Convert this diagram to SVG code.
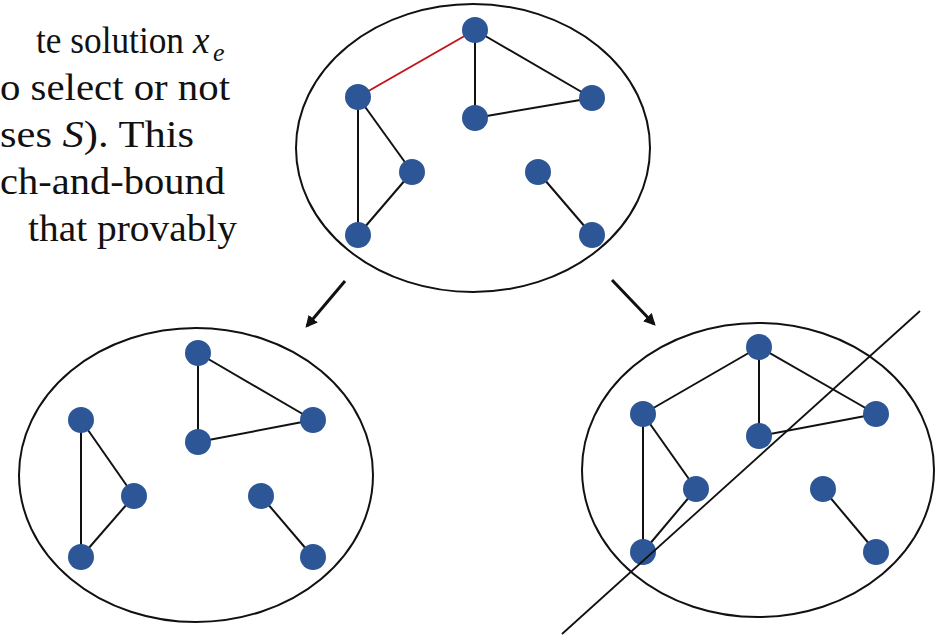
<svg xmlns="http://www.w3.org/2000/svg" width="942" height="635" viewBox="0 0 942 635">
<defs>
<style>
.t{font-family:"Liberation Serif","DejaVu Serif",serif;font-size:37px;fill:#111}
.i{font-style:italic}
.e{fill:none;stroke:#111;stroke-width:2}
.ell{fill:none;stroke:#111;stroke-width:2}
.n{fill:#2d5696}
.cut{stroke:#111;stroke-width:1.8}
</style>
<marker id="ah" viewBox="0 0 10 10" refX="8" refY="5" markerWidth="4" markerHeight="4" orient="auto"><path d="M0,0 L10,5 L0,10 z" fill="#111"/></marker>
</defs>
<rect width="942" height="635" fill="#fff"/>
<g id="text">
<text class="t" x="36" y="53" textLength="148" lengthAdjust="spacingAndGlyphs">te solution</text>
<text class="t i" x="193" y="53">x</text>
<text class="t i" x="213" y="61" style="font-size:26px">e</text>
<text class="t" x="0" y="100" textLength="230" lengthAdjust="spacingAndGlyphs">o select or not</text>
<text class="t" x="0" y="147" textLength="194" lengthAdjust="spacingAndGlyphs">ses <tspan class="i">S</tspan>). This</text>
<text class="t" x="0" y="194" textLength="225" lengthAdjust="spacingAndGlyphs">ch-and-bound</text>
<text class="t" x="28" y="241" textLength="209" lengthAdjust="spacingAndGlyphs">that provably</text>
</g>
<g id="connectors">
<line x1="345" y1="281" x2="307" y2="326" stroke="#111" stroke-width="3" marker-end="url(#ah)"/>
<line x1="612" y1="280" x2="654" y2="324" stroke="#111" stroke-width="3" marker-end="url(#ah)"/>
</g>
<g id="graph-top">
<ellipse class="ell" cx="473" cy="148" rx="177" ry="144"/>
<line x1="475" y1="30" x2="358" y2="97" stroke="#c0161c" stroke-width="2"/>
<line class="e" x1="475" y1="30" x2="475" y2="118"/>
<line class="e" x1="475" y1="30" x2="592" y2="98"/>
<line class="e" x1="475" y1="118" x2="592" y2="98"/>
<line class="e" x1="358" y1="97" x2="358" y2="235"/>
<line class="e" x1="358" y1="97" x2="412" y2="172"/>
<line class="e" x1="412" y1="172" x2="358" y2="235"/>
<line class="e" x1="538" y1="172" x2="592" y2="235"/>
<circle class="n" cx="475" cy="30" r="13"/>
<circle class="n" cx="358" cy="97" r="13"/>
<circle class="n" cx="592" cy="98" r="13"/>
<circle class="n" cx="475" cy="118" r="13"/>
<circle class="n" cx="412" cy="172" r="13"/>
<circle class="n" cx="358" cy="235" r="13"/>
<circle class="n" cx="538" cy="172" r="13"/>
<circle class="n" cx="592" cy="235" r="13"/>
</g>
<g id="graph-left">
<ellipse class="ell" cx="196" cy="475" rx="177" ry="147"/>
<line class="e" x1="198" y1="353" x2="198" y2="442"/>
<line class="e" x1="198" y1="353" x2="313" y2="420"/>
<line class="e" x1="198" y1="442" x2="313" y2="420"/>
<line class="e" x1="81" y1="420" x2="81" y2="557"/>
<line class="e" x1="81" y1="420" x2="134" y2="496"/>
<line class="e" x1="134" y1="496" x2="81" y2="557"/>
<line class="e" x1="261" y1="496" x2="313" y2="557"/>
<circle class="n" cx="198" cy="353" r="13"/>
<circle class="n" cx="313" cy="420" r="13"/>
<circle class="n" cx="198" cy="442" r="13"/>
<circle class="n" cx="81" cy="420" r="13"/>
<circle class="n" cx="134" cy="496" r="13"/>
<circle class="n" cx="81" cy="557" r="13"/>
<circle class="n" cx="261" cy="496" r="13"/>
<circle class="n" cx="313" cy="557" r="13"/>
</g>
<g id="graph-right">
<ellipse class="ell" cx="758" cy="470" rx="176" ry="147"/>
<line class="e" x1="759" y1="347" x2="643" y2="414"/>
<line class="e" x1="759" y1="347" x2="759" y2="436"/>
<line class="e" x1="759" y1="347" x2="876" y2="414"/>
<line class="e" x1="759" y1="436" x2="876" y2="414"/>
<line class="e" x1="643" y1="414" x2="643" y2="552"/>
<line class="e" x1="643" y1="414" x2="696" y2="489"/>
<line class="e" x1="696" y1="489" x2="643" y2="552"/>
<line class="e" x1="823" y1="489" x2="876" y2="552"/>
<circle class="n" cx="759" cy="347" r="13"/>
<circle class="n" cx="643" cy="414" r="13"/>
<circle class="n" cx="876" cy="414" r="13"/>
<circle class="n" cx="759" cy="436" r="13"/>
<circle class="n" cx="696" cy="489" r="13"/>
<circle class="n" cx="643" cy="552" r="13"/>
<circle class="n" cx="823" cy="489" r="13"/>
<circle class="n" cx="876" cy="552" r="13"/>
<line class="cut" x1="920" y1="311" x2="562" y2="634"/>
</g>
</svg>
